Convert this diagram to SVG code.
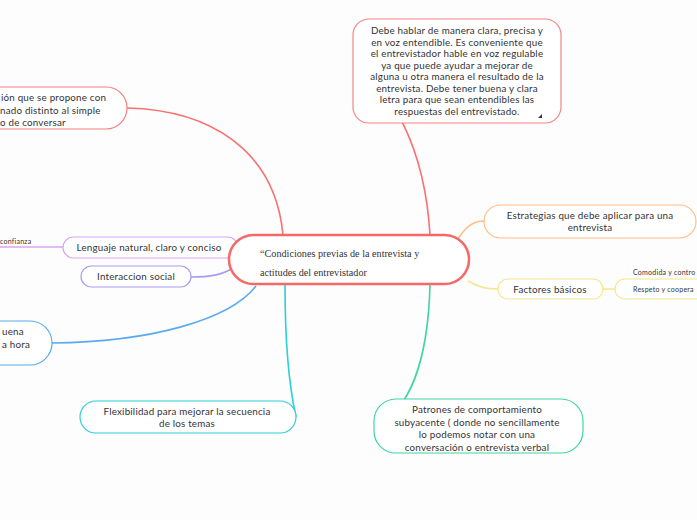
<svg xmlns="http://www.w3.org/2000/svg" width="697" height="520" viewBox="0 0 697 520">
<style>
.t{font-family:Lato,"Open Sans",sans-serif;font-size:9.8px;letter-spacing:0.2px;fill:#333}
.s{font-family:Lato,"Open Sans",sans-serif;font-size:7px;letter-spacing:0.25px;fill:#333}
.c{text-anchor:middle}
.n{fill:#fff;stroke-width:1.2}
.l{fill:none;stroke-width:1.6}
.sf{font-family:'Liberation Serif',serif;font-size:10.2px;fill:#333}
</style>
<rect width="697" height="520" fill="#fdfdfd"/>
<g id="connectors">
<path class="l" stroke="#f87070" d="M127,108 C210,110 275,150 283,235"/>
<path class="l" stroke="#f87070" d="M353,71 C392,85 425,150 430,235"/>
<path class="l" stroke="#ffbe8a" d="M458,239 C465,228 472,221 484,221"/>
<path class="l" stroke="#f5e690" d="M468,281 C480,288 488,289 498,289"/>
<path class="l" stroke="#f5e690" d="M603,289 L615,289"/>
<path class="l" stroke="#d9a6ee" d="M0,247 L63,247"/>
<path class="l" stroke="#a99cf5" d="M191,277 C210,277 222,275 233,268"/>
<path class="l" stroke="#5aaaf0" d="M52,343 C150,342 230,320 256,286"/>
<path class="l" stroke="#2ccfd9" d="M285,285 C285,350 290,390 296,417"/>
<path class="l" stroke="#3ed6a2" d="M430,285 C428,360 410,410 375,427"/>
</g>
<g id="n-top-left">
<rect class="n" stroke="#f87c7c" x="-40" y="87" width="167" height="42" rx="21"/>
<text class="t" x="1" y="101">ión que se propone con</text>
<text class="t" x="0" y="113.5">nado distinto al simple</text>
<text class="t" x="0" y="126">o de conversar</text>
</g>
<g id="n-debe">
<rect class="n" stroke="#f88484" x="353" y="19" width="208" height="104" rx="16"/>
<text class="t c" x="457" y="34">Debe hablar de manera clara, precisa y</text>
<text class="t c" x="457" y="45.5">en voz entendible. Es conveniente que</text>
<text class="t c" x="457" y="57">el entrevistador hable en voz regulable</text>
<text class="t c" x="457" y="68.5">ya que puede ayudar a mejorar de</text>
<text class="t c" x="457" y="80">alguna u otra manera el resultado de la</text>
<text class="t c" x="457" y="91.5">entrevista. Debe tener buena y clara</text>
<text class="t c" x="457" y="103">letra para que sean entendibles las</text>
<text class="t c" x="457" y="114.5">respuestas del entrevistado.</text>
<polygon points="542,114 542,118 538,118" fill="#333"/>
</g>
<g id="n-estrategias">
<rect class="n" stroke="#ffbe8a" x="484" y="205" width="212" height="33" rx="16.5"/>
<text class="t c" x="590" y="219">Estrategias que debe  aplicar para una</text>
<text class="t c" x="590" y="231">entrevista</text>
</g>
<g id="n-factores">
<rect class="n" stroke="#f5e690" x="498" y="279" width="105" height="20" rx="10"/>
<text class="t c" x="550" y="292.5">Factores básicos</text>
</g>
<g id="n-comodida">
<text class="s" x="633" y="275">Comodida y contro</text>
</g>
<g id="n-respeto">
<rect class="n" stroke="#f5e690" x="615" y="279" width="120" height="20" rx="10"/>
<text class="s" x="633" y="292">Respeto y coopera</text>
</g>
<g id="n-confianza">
<text class="s" x="0" y="244">confianza</text>
</g>
<g id="n-lenguaje">
<rect class="n" stroke="#d9a6ee" x="63" y="237" width="175" height="21" rx="10.5"/>
<text class="t c" x="149" y="251">Lenguaje natural, claro y conciso</text>
</g>
<g id="n-interaccion">
<rect class="n" stroke="#a99cf5" x="81" y="266" width="110" height="21" rx="10.5"/>
<text class="t c" x="136" y="280">Interaccion social</text>
</g>
<g id="n-center">
<rect x="229" y="235" width="240" height="49" rx="24.5" fill="#fff" stroke="#f86767" stroke-width="2.5"/>
<text class="sf" x="260" y="257">“Condiciones previas de la entrevista y</text>
<text class="sf" x="260" y="276">actitudes del entrevistador</text>
</g>
<g id="n-buena">
<rect class="n" stroke="#5aaaf0" x="-40" y="321" width="92" height="44" rx="22"/>
<text class="t" x="2" y="335">uena</text>
<text class="t" x="2" y="348">a hora</text>
</g>
<g id="n-flex">
<rect class="n" stroke="#2ccfd9" x="80" y="401" width="216" height="32" rx="16"/>
<text class="t c" x="187" y="414.5">Flexibilidad para mejorar la secuencia</text>
<text class="t c" x="187" y="427">de los temas</text>
</g>
<g id="n-patrones">
<rect class="n" stroke="#3ed6a2" x="374" y="399" width="209" height="54" rx="22"/>
<text class="t c" x="477" y="413">Patrones de comportamiento</text>
<text class="t c" x="477" y="425.5">subyacente ( donde  no sencillamente</text>
<text class="t c" x="477" y="438">lo podemos notar con una</text>
<text class="t c" x="477" y="450.5">conversación o entrevista verbal</text>
</g>
</svg>
